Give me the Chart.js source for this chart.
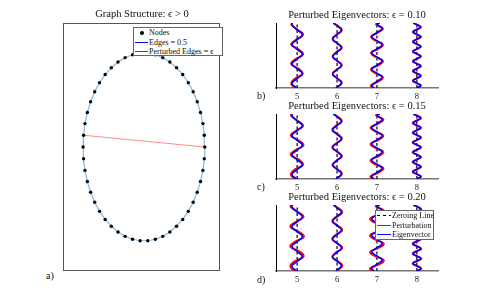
<!DOCTYPE html>
<html>
<head>
<meta charset="utf-8">
<script src="https://cdn.jsdelivr.net/npm/chart.js@4.4.1/dist/chart.umd.min.js"></script>
<style>
  body { margin:0; width:485px; height:305px; background:#fff; position:relative; overflow:hidden;
         font-family:"Liberation Serif", "DejaVu Serif", serif; color:#111; }
  canvas { position:absolute; }
  .txt { position:absolute; white-space:nowrap; line-height:12px; }
  .title { font-size:10.5px; text-align:center; width:200px; }
  .lab { font-size:10px; }
  .legend { position:absolute; background:#fff; border:1px solid #666; box-sizing:border-box; font-size:8px; color:#111; }
  .row { position:absolute; left:0; height:9px; line-height:9px; white-space:nowrap; }
  .sw { position:absolute; top:4px; height:1.3px; }
  .dot { position:absolute; top:2.5px; width:4px; height:4px; border-radius:50%; background:#000; }
</style>
</head>
<body>

<canvas id="graph" width="175" height="265" style="left:55px;top:15px"></canvas>
<canvas id="eigB" width="180" height="83" style="left:266px;top:19px"></canvas>
<canvas id="eigC" width="180" height="83" style="left:266px;top:110px"></canvas>
<canvas id="eigD" width="180" height="84" style="left:266px;top:201px"></canvas>

<div class="txt title" style="left:42px;top:8px">Graph Structure: ϵ &gt; 0</div>
<div class="txt title" style="left:257px;top:9px">Perturbed Eigenvectors: ϵ = 0.10</div>
<div class="txt title" style="left:257px;top:100px">Perturbed Eigenvectors: ϵ = 0.15</div>
<div class="txt title" style="left:257px;top:191px">Perturbed Eigenvectors: ϵ = 0.20</div>

<div class="txt lab" style="left:46px;top:270px">a)</div>
<div class="txt lab" style="left:257px;top:90px">b)</div>
<div class="txt lab" style="left:257px;top:181px">c)</div>
<div class="txt lab" style="left:257px;top:274px">d)</div>

<div class="legend" style="left:133px;top:27px;width:90px;height:29px">
  <div class="row" style="top:0px"><span class="dot" style="left:6px"></span><span style="position:absolute;left:15px">Nodes</span></div>
  <div class="row" style="top:10px"><span class="sw" style="left:1px;width:13px;background:#0000ff"></span><span style="position:absolute;left:15px">Edges = 0.5</span></div>
  <div class="row" style="top:19px"><span class="sw" style="left:1px;width:13px;background:#ff0000"></span><span style="position:absolute;left:15px">Perturbed Edges = ϵ</span></div>
</div>

<div class="legend" style="left:375px;top:210px;width:59px;height:30px">
  <div class="row" style="top:0px"><span class="sw" style="left:1px;width:14px;background:repeating-linear-gradient(90deg,#000 0 3px,transparent 3px 6px)"></span><span style="position:absolute;left:16px">Zeroing Line</span></div>
  <div class="row" style="top:9.5px"><span class="sw" style="left:1px;width:14px;background:#ff0000"></span><span style="position:absolute;left:16px">Perturbation</span></div>
  <div class="row" style="top:18.5px"><span class="sw" style="left:1px;width:14px;background:#0000ff"></span><span style="position:absolute;left:16px">Eigenvector</span></div>
</div>

<script>
/* GRAFO - NOS (posicoes) */
const nodeX = [1, .992, .969, .930, .876, .809, .729, .637, .536, .426, .309, .187, .063,
               -.063, -.187, -.309, -.426, -.536, -.637, -.729, -.809, -.876, -.930, -.969, -.992,
               -1, -.992, -.969, -.930, -.876, -.809, -.729, -.637, -.536, -.426, -.309, -.187, -.063,
               .063, .187, .309, .426, .536, .637, .729, .809, .876, .930, .969, .992];
const nodeY = [0, .125, .249, .368, .482, .588, .685, .771, .844, .905, .951, .982, .998,
               .998, .982, .951, .905, .844, .771, .685, .588, .482, .368, .249, .125,
               0, -.125, -.249, -.368, -.482, -.588, -.685, -.771, -.844, -.905, -.951, -.982, -.998,
               -.998, -.982, -.951, -.905, -.844, -.771, -.685, -.588, -.482, -.368, -.249, -.125];
const perturbedEdge = [0, 24];

/* AUTOVETORES - colunas e ticks */
const columns = [5, 6, 7, 8];
const xTicks = [5, 6, 7, 8];

const t5 = [0, 0.07, 0.145, 0.22, 0.295, 0.37, 0.445, 0.52, 0.595, 0.67, 0.745, 0.82, 0.895, 0.97, 1];
const eig5 = [-0.01, -0.13, 0, 0.13, 0, -0.13, 0, 0.13, 0, -0.13, 0, 0.13, 0, -0.13, -0.12];
const pert5b = [-0.05, -0.15, -0.05, 0.14, 0.04, -0.15, -0.04, 0.15, 0.03, -0.15, -0.02, 0.15, 0.01, -0.14, -0.13];
const pert5c = [-0.06, -0.16, -0.06, 0.15, 0.05, -0.16, -0.04, 0.16, 0.03, -0.16, -0.02, 0.15, 0.01, -0.15, -0.14];
const pert5d = [-0.07, -0.17, -0.07, 0.16, 0.06, -0.17, -0.05, 0.17, 0.04, -0.17, -0.03, 0.16, 0.02, -0.16, -0.15];

const t6 = [0, 0.08, 0.1475, 0.215, 0.2825, 0.35, 0.4175, 0.485, 0.5525, 0.62, 0.6875, 0.755, 0.8225, 0.89, 0.9575, 1];
const eig6 = [-0.03, 0.11, 0, -0.11, 0, 0.11, 0, -0.11, 0, 0.11, 0, -0.11, 0, 0.11, 0, -0.09];
const pert6b = [-0.02, 0.12, 0.01, -0.11, -0.01, 0.12, 0.01, -0.11, -0.01, 0.12, 0.01, -0.11, -0.01, 0.12, 0.01, -0.09];
const pert6c = [-0.02, 0.12, 0.02, -0.11, -0.02, 0.12, 0.02, -0.12, -0.01, 0.12, 0.02, -0.12, -0.02, 0.12, 0.02, -0.09];
const pert6d = [-0.02, 0.13, 0.02, -0.12, -0.02, 0.13, 0.02, -0.12, -0.02, 0.13, 0.02, -0.12, -0.02, 0.13, 0.02, -0.08];

const t7 = [0, 0.04, 0.1025, 0.165, 0.2275, 0.29, 0.3525, 0.415, 0.4775, 0.54, 0.6025, 0.665, 0.7275, 0.79, 0.8525, 0.915, 0.9775, 1];
const eig7 = [-0.07, -0.13, 0, 0.13, 0, -0.13, 0, 0.13, 0, -0.13, 0, 0.13, 0, -0.13, 0, 0.13, 0, 0.07];
const pert7b = [-0.1, -0.15, 0.04, 0.15, -0.04, -0.15, 0.04, 0.15, -0.03, -0.15, 0.03, 0.15, -0.03, -0.15, 0.02, 0.15, -0.02, 0.06];
const pert7c = [-0.1, -0.16, 0.05, 0.16, -0.05, -0.16, 0.04, 0.16, -0.04, -0.16, 0.04, 0.16, -0.03, -0.16, 0.03, 0.16, -0.02, 0.06];
const pert7d = [-0.11, -0.17, 0.06, 0.17, -0.05, -0.17, 0.05, 0.17, -0.05, -0.17, 0.04, 0.17, -0.04, -0.17, 0.03, 0.17, -0.03, 0.06];

const t8 = [0, 0.0375, 0.075, 0.1125, 0.15, 0.1875, 0.225, 0.2625, 0.3, 0.3375, 0.375, 0.4125, 0.45, 0.4875,
            0.525, 0.5625, 0.6, 0.6375, 0.675, 0.7125, 0.75, 0.7875, 0.825, 0.8625, 0.9, 0.9375, 0.975, 1];
const eig8 = [0, 0.1, 0, -0.1, 0, 0.1, 0, -0.1, 0, 0.1, 0, -0.1, 0, 0.1, 0, -0.1, 0, 0.1, 0, -0.1, 0, 0.1, 0, -0.1, 0, 0.1, 0, -0.09];
const pert8b = [0, 0.1, 0, -0.1, 0, 0.1, 0, -0.1, 0, 0.1, 0, -0.1, 0, 0.1, 0, -0.1, 0, 0.1, 0, -0.1, 0, 0.1, 0, -0.1, 0, 0.1, 0, -0.09];
const pert8c = [0, 0.105, 0, -0.105, 0, 0.105, 0, -0.105, 0, 0.105, 0, -0.105, 0, 0.105, 0, -0.105, 0, 0.105, 0, -0.105, 0, 0.105, 0, -0.105, 0, 0.105, 0, -0.09];
const pert8d = [0.01, 0.11, 0.01, -0.105, -0.01, 0.11, 0.01, -0.105, -0.01, 0.11, 0.01, -0.105, -0.01, 0.11, 0.01, -0.105, -0.01, 0.11, 0.01, -0.105, -0.01, 0.11, 0.01, -0.105, -0.01, 0.11, 0.01, -0.09];

const knots = [t5, t6, t7, t8];
const eigen = [eig5, eig6, eig7, eig8];

const fonte = "'Liberation Serif', 'DejaVu Serif', serif";

/* caixa em volta do grafo */
const caixa = {
    id: "caixa",
    afterDraw(chart) {
        const a = chart.chartArea, ctx = chart.ctx;
        ctx.save();
        ctx.strokeStyle = "#555";
        ctx.lineWidth = 1;
        ctx.strokeRect(a.left + 0.5, a.top + 0.5, a.right - a.left - 1, a.bottom - a.top - 1);
        ctx.restore();
    }
};

/* GRAFICO A - ESTRUTURA DO GRAFO */
const nos = nodeX.map((x, i) => ({ x: x, y: nodeY[i] }));
const ciclo = nos.concat([nos[0]]);

new Chart(document.getElementById("graph"), {
    type: "scatter",
    data: {
        datasets: [
            { data: nos, pointRadius: 1.7, pointBackgroundColor: "#000", pointBorderWidth: 0 },
            { data: perturbedEdge.map(i => nos[i]), showLine: true, pointRadius: 0,
              borderColor: "rgba(255,60,60,0.6)", borderWidth: 1.2 },
            { data: ciclo, showLine: true, pointRadius: 0,
              borderColor: "rgba(80,155,215,0.7)", borderWidth: 1.2 }
        ]
    },
    options: {
        responsive: false,
        animation: false,
        layout: { padding: { left: 8, top: 8, right: 10, bottom: 9 } },
        plugins: { legend: { display: false }, tooltip: { enabled: false } },
        scales: {
            x: { type: "linear", min: -1.33, max: 1.25, display: false },
            y: { type: "linear", min: -1.32, max: 1.32, display: false }
        }
    },
    plugins: [caixa]
});

/* GRAFICOS B, C, D - AUTOVETORES PERTURBADOS */
function painel(id, pert) {
    const ds = [];
    columns.forEach((k, c) => {
        ds.push({ data: knots[c].map((t, i) => ({ x: k + eigen[c][i], y: t })),
                  showLine: true, pointRadius: 0, borderColor: "#0000ff", borderWidth: 1.6, tension: 0.45 });
    });
    columns.forEach((k, c) => {
        ds.push({ data: knots[c].map((t, i) => ({ x: k + pert[c][i], y: t })),
                  showLine: true, pointRadius: 0, borderColor: "#ff0000", borderWidth: 2, tension: 0.45 });
    });
    columns.forEach(k => {
        ds.push({ data: [{ x: k, y: 0 }, { x: k, y: 1 }], showLine: true, pointRadius: 0,
                  borderColor: "#000", borderWidth: 1.2, borderDash: [3, 2.5] });
    });

    new Chart(document.getElementById(id), {
        type: "scatter",
        data: { datasets: ds },
        options: {
            responsive: false,
            animation: false,
            layout: { padding: { left: 10, right: 8, top: 4, bottom: 0 } },
            plugins: { legend: { display: false }, tooltip: { enabled: false } },
            scales: {
                x: {
                    type: "linear", min: 4.47, max: 8.53,
                    afterFit: s => { s.height = 14; },
                    afterBuildTicks: s => { s.ticks = xTicks.map(v => ({ value: v })); },
                    grid: { display: false, drawTicks: false },
                    border: { display: true, color: "#777", width: 1.5 },
                    ticks: { font: { family: fonte, size: 8.5 }, color: "#222", padding: 4, maxRotation: 0,
                             callback: v => String(v) }
                },
                y: {
                    type: "linear", min: 0, max: 1,
                    afterFit: s => { s.width = 0; },
                    ticks: { display: false },
                    grid: { display: false, drawTicks: false },
                    border: { display: true, color: "#000", width: 1 }
                }
            }
        }
    });
}

painel("eigB", [pert5b, pert6b, pert7b, pert8b]);
painel("eigC", [pert5c, pert6c, pert7c, pert8c]);
painel("eigD", [pert5d, pert6d, pert7d, pert8d]);
</script>
</body>
</html>
